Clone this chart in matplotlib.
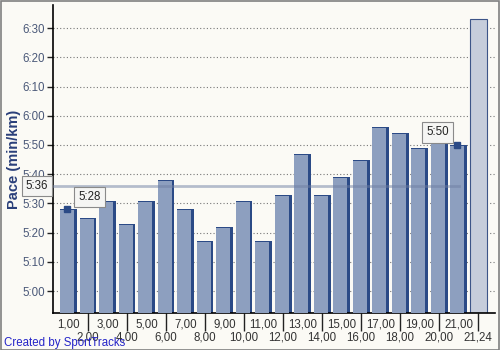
import matplotlib
matplotlib.use("Agg")
import matplotlib.pyplot as plt
from matplotlib.ticker import FixedLocator, FuncFormatter

plt.rcParams['font.family'] = ['Liberation Sans', 'DejaVu Sans']

# km splits and pace per split (min:sec per km)
km_labels = ["1,00", "2,00", "3,00", "4,00", "5,00", "6,00", "7,00", "8,00",
             "9,00", "10,00", "11,00", "12,00", "13,00", "14,00", "15,00",
             "16,00", "17,00", "18,00", "19,00", "20,00", "21,00", "21,24"]
pace = ["5:28", "5:25", "5:31", "5:23", "5:31", "5:38", "5:28", "5:17",
        "5:22", "5:31", "5:17", "5:33", "5:47", "5:33", "5:39", "5:45",
        "5:56", "5:54", "5:49", "5:52", "5:50", "6:33"]
avg_pace = "5:36"
marked = [(0, "5:28"), (20, "5:50")]


def secs(s):
    m, ss = s.split(":")
    return int(m) * 60 + int(ss)


def fmt(v, pos=None):
    v = int(round(v))
    return "%d:%02d" % (v // 60, v % 60)


vals = [secs(p) for p in pace]
x = list(range(len(vals)))
bottom = 292.5

bg = '#fbfaf5'
fig = plt.figure(figsize=(5, 3.5), dpi=100, facecolor=bg)
ax = fig.add_axes([0.106, 0.1057, 0.884, 0.88], facecolor=bg)

w = 0.87
d = 0.13
full = x[:-1]
# dark body (right edge + top) then lighter face
ax.bar(full, [v - bottom for v in vals[:-1]], width=w, bottom=bottom,
       color='#2b4a86', zorder=2)
ax.bar([i - d / 2 for i in full], [v - bottom - 0.35 for v in vals[:-1]],
       width=w - d, bottom=bottom, color='#8d9fbf', zorder=3)
# last partial km
ax.bar(x[-1], vals[-1] - bottom, width=w, bottom=bottom, color='#c6cddb',
       edgecolor='#3d5588', linewidth=0.8, zorder=2)

# average line
a = secs(avg_pace)
ax.plot([-0.8, 20], [a, a], color='#6f7fa3', alpha=0.5, lw=2, zorder=4)

box = dict(boxstyle='square,pad=0.35', fc='#f5f5f3', ec='#8a8a8a', lw=0.8)
ax.annotate(avg_pace, xy=(-0.8, a), xycoords='data', xytext=(-11.5, 0),
            textcoords='offset points', ha='center', va='center',
            fontsize=8.3, color='#222222', bbox=box, zorder=6,
            annotation_clip=False)

for i, lab in marked:
    ax.plot(x[i] - 0.08, vals[i], marker='s', ms=4.5, color='#2b4a86',
            zorder=5)
    dx = 15 if i == 0 else -15
    ax.annotate(lab, xy=(x[i], vals[i]), xytext=(dx, 9),
                textcoords='offset points', ha='center', va='center',
                fontsize=8.3, color='#222222', bbox=box, zorder=6)

ax.set_xlim(-0.795, 21.87)
ax.set_ylim(bottom, 397.9)

yt = list(range(300, 391, 10))
ax.set_yticks(yt)
ax.yaxis.set_major_formatter(FuncFormatter(fmt))
ax.yaxis.grid(True, linestyle=(0, (1, 2)), color='#777777', lw=0.8)
ax.set_axisbelow(True)
ax.tick_params(axis='y', length=4, width=1, color='#222222',
               labelsize=8.3, labelcolor='#4a5878', pad=1.5)

odd = x[0::2]
even = x[1::2]
ax.xaxis.set_major_locator(FixedLocator(odd))
ax.xaxis.set_minor_locator(FixedLocator(even))
ax.set_xticklabels([km_labels[i] for i in odd])
ax.set_xticklabels([km_labels[i] for i in even], minor=True)
ax.tick_params(axis='x', which='major', length=0, labelsize=8.3,
               labelcolor='#333333', pad=4)
ax.tick_params(axis='x', which='minor', length=13, width=1, color='#222222',
               labelsize=8.3, labelcolor='#333333', pad=0.5)

for s in ['top', 'right']:
    ax.spines[s].set_visible(False)
ax.spines['left'].set_linewidth(1.2)
ax.spines['bottom'].set_linewidth(1.2)

ax.set_ylabel("Pace (min/km)", fontsize=10.5, fontweight='bold',
              color='#2a3f7a', labelpad=1)

fig.text(0.008, 0.012, "Created by SportTracks", fontsize=8.3, color='#2424c8')

# outer frame
fig.patches.append(plt.Rectangle((0.001, 0.001), 0.997, 0.996,
                                 transform=fig.transFigure, fill=False,
                                 ec='#808080', lw=1.2))

fig.savefig("out.png", dpi=100, facecolor=bg)
